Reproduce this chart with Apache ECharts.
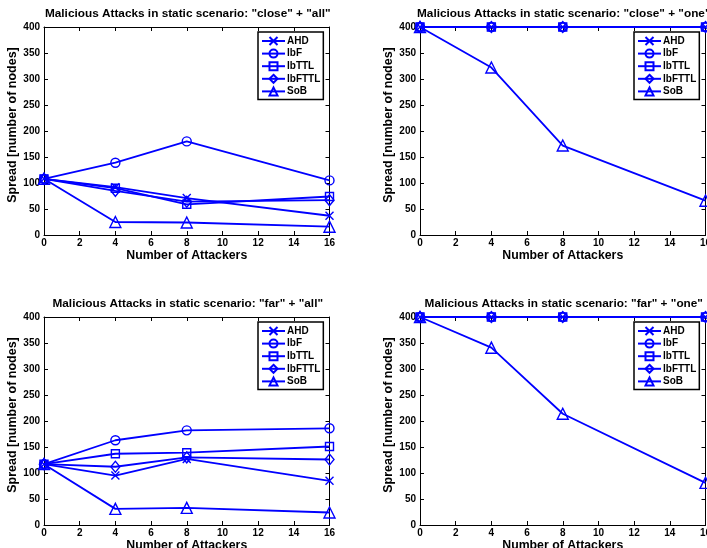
<!DOCTYPE html>
<html><head><meta charset="utf-8">
<script src="https://cdn.jsdelivr.net/npm/echarts@6/dist/echarts.min.js"></script>
<style>html,body{margin:0;padding:0;background:#fff}#c{width:707px;height:548px}</style>
</head><body><div id="c"></div>
<script>
const xValues = [0, 4, 8, 16];
const seriesNames = ['AHD', 'lbF', 'lbTTL', 'lbFTTL', 'SoB'];
const xTicks = [0, 2, 4, 6, 8, 10, 12, 14, 16];
const yTicks = [0, 50, 100, 150, 200, 250, 300, 350, 400];
const titles = [
  'Malicious Attacks in static scenario: "close" + "all"',
  'Malicious Attacks in static scenario: "close" + "one"',
  'Malicious Attacks in static scenario: "far" + "all"',
  'Malicious Attacks in static scenario: "far" + "one"'
];
const xLabel = 'Number of Attackers';
const yLabel = 'Spread [number of nodes]';

// close + all
const closeAll_AHD = [108, 92, 71, 37];
const closeAll_lbF = [108, 139, 180, 105];
const closeAll_lbTTL = [108, 90, 59, 74];
const closeAll_lbFTTL = [108, 85, 64, 67];
const closeAll_SoB = [108, 25, 24, 16];
// close + one
const closeOne_AHD = [400, 400, 400, 400];
const closeOne_lbF = [400, 400, 400, 400];
const closeOne_lbTTL = [400, 400, 400, 400];
const closeOne_lbFTTL = [400, 400, 400, 400];
const closeOne_SoB = [400, 322, 172, 66];
// far + all
const farAll_AHD = [117, 95, 127, 85];
const farAll_lbF = [117, 163, 182, 186];
const farAll_lbTTL = [117, 137, 139, 151];
const farAll_lbFTTL = [117, 112, 130, 126];
const farAll_SoB = [117, 31, 33, 24];
// far + one
const farOne_AHD = [400, 400, 400, 400];
const farOne_lbF = [400, 400, 400, 400];
const farOne_lbTTL = [400, 400, 400, 400];
const farOne_lbFTTL = [400, 400, 400, 400];
const farOne_SoB = [400, 341, 214, 81];

const panels = [
  [closeAll_AHD, closeAll_lbF, closeAll_lbTTL, closeAll_lbFTTL, closeAll_SoB],
  [closeOne_AHD, closeOne_lbF, closeOne_lbTTL, closeOne_lbFTTL, closeOne_SoB],
  [farAll_AHD, farAll_lbF, farAll_lbTTL, farAll_lbFTTL, farAll_SoB],
  [farOne_AHD, farOne_lbF, farOne_lbTTL, farOne_lbFTTL, farOne_SoB]
];

const BLUE = '#0000ff';
const FONT = '"Liberation Sans", Arial, Helvetica, sans-serif';
const symbols = ['path://M0,0L10,10M10,0L0,10', 'circle', 'rect', 'diamond', 'triangle'];
const symSizes = [8, 9, 8, [9, 11], 11];

const gridPos = [
  {left: 44, top: 27}, {left: 420, top: 27},
  {left: 44, top: 317}, {left: 420, top: 317}
];
const GW = 285.5, GH = 208;

const grid = [], xAxis = [], yAxis = [], series = [], graphic = [], legend = [];
gridPos.forEach((g, i) => {
  grid.push({left: g.left, top: g.top, width: GW, height: GH, show: false, containLabel: false, outerBoundsMode: 'none'});
  const common = {min: 0, max: 16, interval: 2, type: 'value', gridIndex: i, splitLine: {show: false},
    axisLine: {show: true, onZero: false, lineStyle: {color: '#000', width: 1}},
    axisTick: {show: true, inside: true, length: 4, lineStyle: {color: '#000'}}};
  xAxis.push(Object.assign({}, common, {position: 'bottom',
    axisLabel: {show: true, color: '#000', fontFamily: FONT, fontWeight: 'bold', fontSize: 10, margin: 3,
      hideOverlap: false, showMaxLabel: true, showMinLabel: true,
      formatter: v => xTicks.includes(v) ? String(v) : ''},
    name: xLabel, nameLocation: 'middle', nameGap: 15,
    nameTextStyle: {color: '#000', fontFamily: FONT, fontWeight: 'bold', fontSize: 12.3, verticalAlign: 'top'}}));
  xAxis.push(Object.assign({}, common, {position: 'top', axisLabel: {show: false}}));
  const ycommon = {min: 0, max: 400, interval: 50, type: 'value', gridIndex: i, splitLine: {show: false},
    axisLine: {show: true, onZero: false, lineStyle: {color: '#000', width: 1}},
    axisTick: {show: true, inside: true, length: 4, lineStyle: {color: '#000'}}};
  yAxis.push(Object.assign({}, ycommon, {position: 'left',
    axisLabel: {show: true, color: '#000', fontFamily: FONT, fontWeight: 'bold', fontSize: 10, margin: 4,
      formatter: v => yTicks.includes(v) ? String(v) : ''},
    name: yLabel, nameLocation: 'middle', nameGap: 21, nameRotate: 90,
    nameTextStyle: {color: '#000', fontFamily: FONT, fontWeight: 'bold', fontSize: 12.5, padding: [0, 0, 0, 12]}}));
  yAxis.push(Object.assign({}, ycommon, {position: 'right', axisLabel: {show: false}}));

  graphic.push({type: 'text', x: g.left + GW / 2 + 1, y: g.top - 13, z: 100,
    style: {text: titles[i], textAlign: 'center', textVerticalAlign: 'middle',
      fill: '#000', font: 'bold 11.8px ' + FONT}});

  legend.push({orient: 'vertical', left: g.left + 214, top: g.top + 5, data: seriesNames,
    itemWidth: 23, itemHeight: 10, itemGap: 2.6, padding: [4, 3, 3, 3],
    backgroundColor: '#fff', borderColor: '#000', borderWidth: 1.5, borderRadius: 0,
    selectedMode: false,
    textStyle: {color: '#000', fontFamily: FONT, fontWeight: 'bold', fontSize: 10, padding: [0, 0, 0, -3]}});

  panels[i].forEach((vals, k) => {
    series.push({
      type: 'line', name: seriesNames[k], xAxisIndex: 2 * i, yAxisIndex: 2 * i,
      data: xValues.map((x, j) => [x, vals[j]]),
      symbol: symbols[k], symbolSize: symSizes[k], showSymbol: true, clip: false,
      lineStyle: {color: BLUE, width: 1.8},
      itemStyle: {color: 'rgba(255,255,255,0)', borderColor: BLUE, borderWidth: 1.4},
      emphasis: {disabled: true}, animation: false, z: 3
    });
  });
});

const chart = echarts.init(document.getElementById('c'), null, {renderer: 'canvas'});
chart.setOption({animation: false, backgroundColor: '#fff', graphic, legend, grid, xAxis, yAxis, series});
</script></body></html>
